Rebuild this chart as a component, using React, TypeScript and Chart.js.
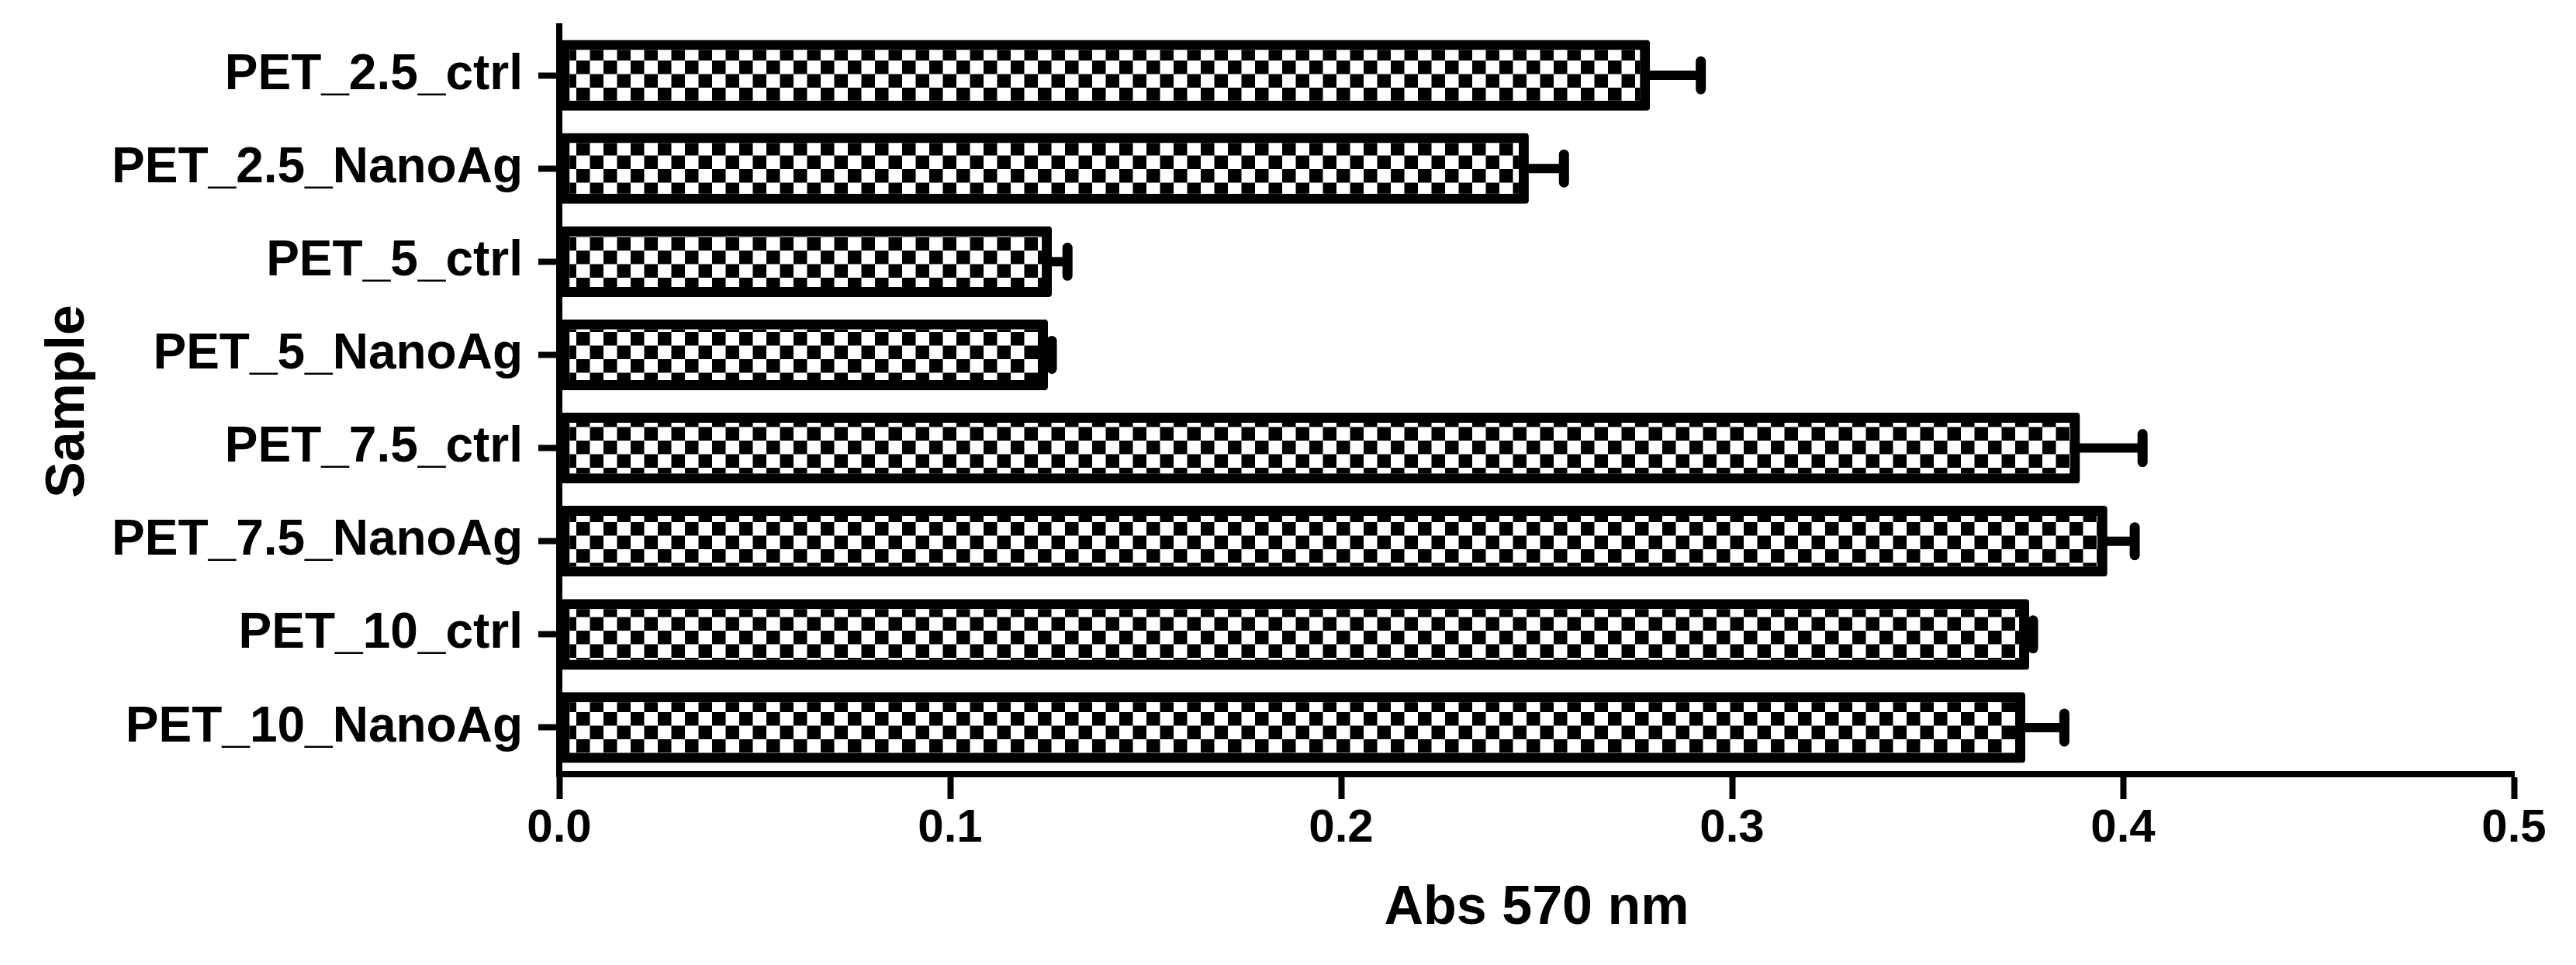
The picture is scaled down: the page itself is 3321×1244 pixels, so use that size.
import React, { useEffect, useRef } from "react";
import { Chart, registerables } from "chart.js";

Chart.register(...registerables);

const categories = [
  "PET_2.5_ctrl",
  "PET_2.5_NanoAg",
  "PET_5_ctrl",
  "PET_5_NanoAg",
  "PET_7.5_ctrl",
  "PET_7.5_NanoAg",
  "PET_10_ctrl",
  "PET_10_NanoAg",
];
const values = [0.279, 0.248, 0.126, 0.125, 0.389, 0.396, 0.376, 0.375];
const errors = [0.013, 0.009, 0.004, 0.001, 0.016, 0.007, 0.001, 0.01];
const xTicks = [0, 0.1, 0.2, 0.3, 0.4, 0.5];
const xTitle = "Abs 570 nm";
const yTitle = "Sample";

const W = 3305;
const H = 1228;
const FONT = '"Liberation Sans", Arial, sans-serif';

function makePattern(): CanvasPattern | string {
  const c = document.createElement("canvas");
  c.width = 35;
  c.height = 35;
  const g = c.getContext("2d");
  if (!g) return "#888";
  g.fillStyle = "#fff";
  g.fillRect(0, 0, 35, 35);
  g.fillStyle = "#000";
  g.fillRect(0, 0, 17.5, 17.5);
  g.fillRect(17.5, 17.5, 17.5, 17.5);
  return g.createPattern(c, "repeat") || "#888";
}

const errorBarPlugin = {
  id: "errorBars",
  afterDatasetsDraw(chart: any) {
    const ctx = chart.ctx;
    const meta = chart.getDatasetMeta(0);
    const xs = chart.scales.x;
    ctx.save();
    ctx.strokeStyle = "#000";
    meta.data.forEach((bar: any, i: number) => {
      const xEnd = xs.getPixelForValue(values[i] + errors[i]);
      const y = bar.y;
      if (xEnd > bar.x) {
        ctx.lineWidth = 12;
        ctx.lineCap = "butt";
        ctx.beginPath();
        ctx.moveTo(bar.x - 6, y);
        ctx.lineTo(xEnd, y);
        ctx.stroke();
      }
      ctx.lineWidth = 13;
      ctx.lineCap = "round";
      ctx.beginPath();
      ctx.moveTo(xEnd, y - 18);
      ctx.lineTo(xEnd, y + 18);
      ctx.stroke();
    });
    ctx.restore();
  },
  afterDraw(chart: any) {
    const ctx = chart.ctx;
    const a = chart.chartArea;
    ctx.save();
    ctx.strokeStyle = "#000";
    ctx.lineWidth = 8;
    ctx.beginPath();
    ctx.moveTo(a.left, a.top - 7);
    ctx.lineTo(a.left, a.top + 2);
    ctx.stroke();
    ctx.restore();
  },
};

export default function App() {
  const ref = useRef<HTMLCanvasElement>(null);
  useEffect(() => {
    if (!ref.current) return;
    const pattern = makePattern();
    const chart = new Chart(ref.current, {
      type: "bar",
      data: {
        labels: categories,
        datasets: [
          {
            data: values,
            backgroundColor: pattern as any,
            borderColor: "#000",
            borderWidth: 13,
            borderSkipped: false,
            borderRadius: 4,
            barPercentage: 0.76,
            categoryPercentage: 1,
          },
        ],
      },
      options: {
        indexAxis: "y",
        responsive: false,
        animation: false,
        devicePixelRatio: 1,
        layout: { padding: { top: 29, right: 72, bottom: 0, left: 0 } },
        plugins: {
          legend: { display: false },
          tooltip: { enabled: false },
        },
        scales: {
          x: {
            type: "linear",
            min: 0,
            max: 0.5,
            afterFit: (s: any) => {
              s.height = 238;
              s.paddingLeft = 0;
              s.paddingRight = 0;
            },
            afterBuildTicks: (s: any) => {
              s.ticks = xTicks.map((v) => ({ value: v }));
            },
            ticks: {
              color: "#000",
              font: { family: FONT, size: 60, weight: "bold" },
              padding: 2,
              callback: (v: any) => Number(v).toFixed(1),
              maxRotation: 0,
            },
            grid: {
              drawOnChartArea: false,
              drawTicks: true,
              tickLength: 32,
              tickWidth: 8,
              tickColor: "#000",
            },
            border: { display: true, color: "#000", width: 8 },
            title: {
              display: true,
              text: xTitle,
              color: "#000",
              font: { family: FONT, size: 70, weight: "bold" },
              padding: { top: 0, bottom: 22 },
            },
          },
          y: {
            type: "category",
            afterFit: (s: any) => {
              s.width = 713;
              s.paddingTop = 0;
              s.paddingBottom = 0;
            },
            ticks: {
              color: "#000",
              font: { family: FONT, size: 64, weight: "bold" },
              padding: 20,
              autoSkip: false,
            },
            grid: {
              offset: false,
              drawOnChartArea: false,
              drawTicks: true,
              tickLength: 27,
              tickWidth: 8,
              tickColor: "#000",
            },
            border: { display: true, color: "#000", width: 8 },
            title: {
              display: true,
              text: yTitle,
              color: "#000",
              font: { family: FONT, size: 70, weight: "bold" },
              padding: { top: 39, bottom: 0 },
            },
          },
        },
      },
      plugins: [errorBarPlugin],
    } as any);
    return () => chart.destroy();
  }, []);
  return (
    <canvas
      ref={ref}
      width={W}
      height={H}
      style={{ display: "block", width: W, height: H }}
    />
  );
}
